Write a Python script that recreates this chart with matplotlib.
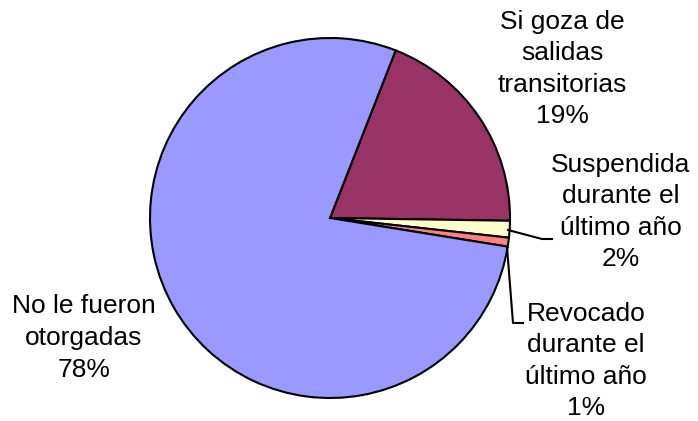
import matplotlib.pyplot as plt

etiquetas = ['Si goza de\nsalidas\ntransitorias', 'Suspendida\ndurante el\núltimo año',
             'Revocado\ndurante el\núltimo año', 'No le fueron\notorgadas']
valores = [19.3, 1.5, 0.8, 78.4]
colores = ['#993366', '#FFFFCC', '#FF8080', '#9999FF']

plt.rcParams['font.family'] = ['Liberation Sans', 'DejaVu Sans']

W, H = 698, 421
fig = plt.figure(figsize=(W / 100, H / 100), dpi=100)
ax = fig.add_axes([0, 0, 1, 1])

cx, cy, r = 330, H - 218, 180
ax.pie(valores, colors=colores, startangle=68.6, counterclock=False,
       center=(cx, cy), radius=r, frame=True,
       wedgeprops=dict(edgecolor='black', linewidth=1.5))
ax.set_xlim(0, W)
ax.set_ylim(0, H)
ax.set_aspect('equal')
ax.axis('off')

pct = [f'{round(v):d}%' for v in valores]
pos = [(562, 69), (621, 212), (586, 361), (84, 338)]
for lab, p, (x, y) in zip(etiquetas, pct, pos):
    ax.text(x, H - y, lab + '\n' + p, ha='center', va='center',
            fontsize=19, linespacing=1.4)

# lineas guia
ax.plot([508, 542, 552], [H - 230, H - 239, H - 239], color='black', lw=1.5)
ax.plot([507, 513, 523], [H - 247, H - 323, H - 323], color='black', lw=1.5)

fig.savefig('out.png', dpi=100)
